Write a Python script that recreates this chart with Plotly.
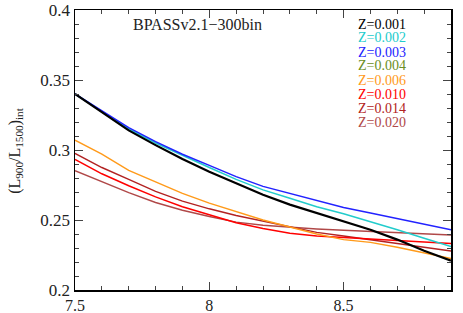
import plotly.graph_objects as go

# log age grid
log_age = [7.5, 7.6, 7.7, 7.8, 7.9, 8.0, 8.1, 8.2, 8.3, 8.4, 8.5, 8.6, 8.7, 8.8, 8.9]

z0001 = [0.340, 0.327, 0.314, 0.3035, 0.2935, 0.2845, 0.2765, 0.268, 0.261, 0.255, 0.249, 0.243, 0.236, 0.228, 0.221]
z0002 = [0.340, 0.3275, 0.315, 0.305, 0.296, 0.2875, 0.279, 0.2715, 0.2655, 0.2595, 0.2545, 0.249, 0.243, 0.237, 0.231]
z0003 = [0.340, 0.328, 0.316, 0.306, 0.297, 0.289, 0.281, 0.274, 0.269, 0.264, 0.259, 0.255, 0.251, 0.247, 0.243]
z0006 = [0.307, 0.297, 0.2855, 0.277, 0.269, 0.262, 0.256, 0.250, 0.245, 0.240, 0.236, 0.234, 0.2305, 0.2265, 0.2225]
z0010 = [0.2933, 0.283, 0.2745, 0.2665, 0.2595, 0.2535, 0.248, 0.244, 0.2405, 0.2386, 0.2376, 0.2365, 0.2355, 0.2344, 0.2333]
z0014 = [0.2976, 0.2875, 0.279, 0.2705, 0.2635, 0.258, 0.2532, 0.2492, 0.2452, 0.2412, 0.2386, 0.2359, 0.2332, 0.2305, 0.2279]
z0020 = [0.2852, 0.2775, 0.2695, 0.2625, 0.257, 0.2525, 0.2485, 0.2462, 0.2447, 0.2436, 0.2427, 0.2419, 0.241, 0.2402, 0.2393]

legend_labels = ["Z=0.001", "Z=0.002", "Z=0.003", "Z=0.004", "Z=0.006", "Z=0.010", "Z=0.014", "Z=0.020"]
legend_colors = ["#000000", "#22CCCC", "#2222FF", "#6B8E23", "#FF9A1A", "#FF0000", "#B22222", "#B04848"]

x_ticks = [7.5, 8.0, 8.5]
x_ticklabels = ["7.5", "8", "8.5"]
y_ticks = [0.2, 0.25, 0.3, 0.35, 0.4]
y_ticklabels = ["0.2", "0.25", "0.3", "0.35", "0.4"]

title_text = "BPASSv2.1\u2212300bin"
ytitle = "(L<sub>900</sub>/L<sub>1500</sub>)<sub>int</sub>"

FONT = "Liberation Serif, DejaVu Serif, serif"

fig = go.Figure()

series = [
    (z0020, "#B04848", 1.4),
    (z0014, "#B22222", 1.4),
    (z0010, "#FF0000", 1.5),
    (z0006, "#FF9A1A", 1.4),
    (z0002, "#22CCCC", 1.5),
    (z0003, "#2222FF", 1.5),
    (z0001, "#000000", 2.2),
]
for ys, col, w in series:
    fig.add_trace(go.Scatter(x=log_age, y=ys, mode="lines",
                             line=dict(color=col, width=w), showlegend=False,
                             hoverinfo="skip"))

axis_common = dict(
    showgrid=False, zeroline=False, ticks="inside", ticklen=8, tickwidth=1,
    tickcolor="#444", showline=True, linecolor="#000", linewidth=1.5,
    mirror="ticks", automargin=False,
)

fig.update_xaxes(range=[7.5, 8.9], tickvals=x_ticks, ticktext=x_ticklabels,
                 minor=dict(dtick=0.1, ticks="inside", ticklen=4, tickcolor="#444"),
                 tickfont=dict(family=FONT, size=16, color="#222"),
                 **axis_common)
fig.update_yaxes(range=[0.2, 0.4], tickvals=y_ticks, ticktext=y_ticklabels,
                 minor=dict(dtick=0.01, ticks="inside", ticklen=4, tickcolor="#444"),
                 tickfont=dict(family=FONT, size=17, color="#222"),
                 **axis_common)

# plot area spans 376 x 280 px
fig.add_annotation(text=title_text, xref="paper", yref="paper",
                   x=0.327, y=0.95, xanchor="center", yanchor="middle",
                   showarrow=False, font=dict(family=FONT, size=16, color="#222"))

for i, (lab, col) in enumerate(zip(legend_labels, legend_colors)):
    ypx = 24 + i * 14
    fig.add_annotation(text=lab, xref="paper", yref="paper",
                       x=0.748, y=(290 - ypx) / 280, xanchor="left", yanchor="middle",
                       showarrow=False, font=dict(family=FONT, size=14, color=col))

fig.add_annotation(text=ytitle, xref="paper", yref="paper",
                   x=-0.16, y=0.5, xanchor="center", yanchor="middle",
                   textangle=-90, showarrow=False,
                   font=dict(family=FONT, size=16, color="#222"))

fig.update_layout(width=463, height=313,
                  margin=dict(l=75, r=12, t=10, b=23, autoexpand=False),
                  paper_bgcolor="white", plot_bgcolor="white")

fig.write_html("out.html", config={"displayModeBar": False, "staticPlot": True},
               post_script="document.body.style.margin='0';document.body.style.overflow='hidden';")
